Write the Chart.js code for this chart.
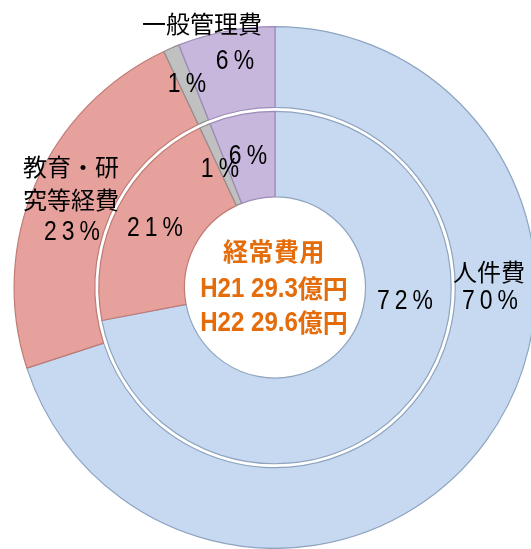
<!DOCTYPE html>
<html>
<head>
<meta charset="utf-8">
<script src="https://cdn.jsdelivr.net/npm/chart.js@4/dist/chart.umd.min.js"></script>
<style>
  html, body { margin: 0; padding: 0; background: #ffffff; overflow: hidden; width: 531px; height: 549px; }
  #wrap { position: absolute; left: 0; top: 0; width: 540px; height: 549px; }
</style>
</head>
<body>
<div id="wrap"><canvas id="c"></canvas></div>
<script>
// ---- data ----
const categories = ['人件費', '教育・研究等経費', 'その他', '一般管理費'];
const valuesH22 = [70, 23, 1, 6];   // outer ring
const valuesH21 = [72, 21, 1, 6];   // inner ring
const totalLabel = '経常費用';
const yearLabels = ['H21', 'H22'];
const totals = [29.3, 29.6];
const totalUnit = '億円';

// ---- styles ----
const fillColors = ['#c6d9f1', '#e6a19c', '#c0c0c0', '#c7b7dd'];
const edgeColors = ['#8ea4bf', '#c07a75', '#8f8f8f', '#9c8bb8'];

// label layout (offsets from ring centre, px)
const catLabelLayout = [
  { lines: ['人件費'], dx: 214, dy: -16 },
  { lines: ['教育・研', '究等経費'], dx: -204, dy: -121, lh: 33 },
  null,
  { lines: ['一般管理費'], dx: -73, dy: -264 }
];
const outerPctLayout = [[215, 14], [-203, -55], [-88, -203], [-40, -226]];
const innerPctLayout = [[130, 14], [-120, -59], [-55, -118], [-27, -131]];

function scaledText(ctx, text, x, y, sx) {
  ctx.save();
  ctx.translate(x, y);
  ctx.scale(sx, 1);
  ctx.fillText(text, 0, 0);
  ctx.restore();
}

const labelPlugin = {
  id: 'labels',
  afterDraw(chart) {
    const arc = chart.getDatasetMeta(0).data[0];
    const cx = arc.x, cy = arc.y;
    const ctx = chart.ctx;
    ctx.save();
    ctx.textAlign = 'center';
    ctx.textBaseline = 'middle';
    ctx.fillStyle = '#000000';
    // category names
    ctx.font = '24px "Noto Sans CJK JP"';
    ctx.letterSpacing = '0px';
    catLabelLayout.forEach((l) => {
      if (!l) return;
      l.lines.forEach((t, i) => ctx.fillText(t, cx + l.dx, cy + l.dy + i * (l.lh || 0)));
    });
    // percentages
    ctx.font = '27px "Liberation Sans", Arial, sans-serif';
    ctx.letterSpacing = '6px';
    valuesH22.forEach((v, i) => {
      const p = outerPctLayout[i];
      scaledText(ctx, v + '%', cx + p[0] + 2.5, cy + p[1], 0.85);
    });
    valuesH21.forEach((v, i) => {
      const p = innerPctLayout[i];
      scaledText(ctx, v + '%', cx + p[0] + 2.5, cy + p[1], 0.85);
    });
    // centre
    ctx.fillStyle = '#e46c0a';
    ctx.font = 'bold 25px "Noto Sans CJK JP"';
    ctx.letterSpacing = '0.5px';
    ctx.fillText(totalLabel, cx - 1, cy - 36);
    ctx.letterSpacing = '0px';
    ctx.textAlign = 'left';
    const latinFont = 'bold 28px "Liberation Sans", Arial, sans-serif';
    const cjkFont = 'bold 25px "Noto Sans CJK JP"';
    const sx = 0.86;
    yearLabels.forEach((y, i) => {
      const a = y + ' ' + totals[i].toFixed(1);
      ctx.font = latinFont;
      const wa = ctx.measureText(a).width * sx;
      ctx.font = cjkFont;
      const wb = ctx.measureText(totalUnit).width;
      const x0 = cx - 1 - (wa + wb) / 2;
      const yy = cy + 1 + i * 34;
      ctx.font = latinFont;
      scaledText(ctx, a, x0, yy + 1, sx);
      ctx.font = cjkFont;
      ctx.fillText(totalUnit, x0 + wa, yy);
    });
    ctx.restore();
  }
};

new Chart(document.getElementById('c'), {
  type: 'doughnut',
  data: {
    labels: categories,
    datasets: [
      { label: 'H22', data: valuesH22, backgroundColor: fillColors, borderColor: edgeColors, borderWidth: 1.2, weight: 81 },
      { label: 'gap', data: [1], backgroundColor: ['rgba(0,0,0,0)'], borderWidth: 0, weight: 4 },
      { label: 'H21', data: valuesH21, backgroundColor: fillColors, borderColor: edgeColors, borderWidth: 1.2, weight: 86 }
    ]
  },
  options: {
    responsive: true,
    maintainAspectRatio: false,
    animation: false,
    cutout: '34.7%',
    layout: { padding: { left: 13, top: 26, right: 3, bottom: 0 } },
    plugins: { legend: { display: false }, tooltip: { enabled: false } }
  },
  plugins: [labelPlugin]
});
</script>
</body>
</html>
